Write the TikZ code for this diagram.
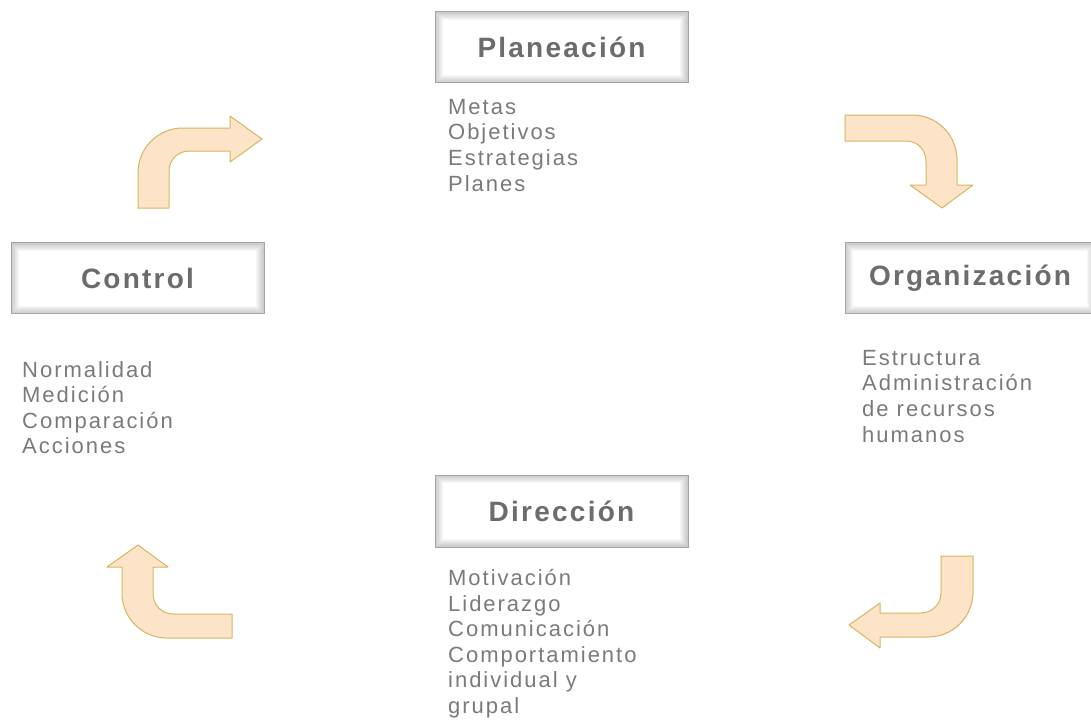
\documentclass[tikz,border=0pt]{standalone}
\usepackage{fontspec}
\setmainfont{Liberation Sans}
\newfontfamily\boxfont[LetterSpace=8]{Liberation Sans}
\newfontfamily\listfont[LetterSpace=9]{Liberation Sans}

\definecolor{titlegray}{RGB}{108,108,108}
\definecolor{listgray}{RGB}{122,122,122}
\definecolor{boxline}{RGB}{165,165,165}
\definecolor{arrowfill}{RGB}{253,228,200}
\definecolor{arrowline}{RGB}{212,182,96}

\begin{document}
\begin{tikzpicture}[x=1pt, y=-1pt,
		titlebox/.style={draw=boxline, fill=white, line width=1pt,
			minimum width=253pt, minimum height=71pt, inner sep=0pt,
			text=titlegray, font=\boxfont\bfseries\fontsize{28pt}{32pt}\selectfont,
			path picture={
				\foreach \i in {1,...,8}
					\draw[gray, opacity=0.06, line width=2*\i pt]
						(path picture bounding box.south west) rectangle
						(path picture bounding box.north east);
			}},
		itemlist/.style={anchor=north west, inner sep=0pt, align=left,
			text=listgray, font=\listfont\fontsize{22pt}{25.6pt}\selectfont},
		bentarrow/.style={fill=arrowfill, draw=arrowline, line width=1pt, line join=round}]

		\useasboundingbox (0,0) rectangle (1091,726);

		% boxes
		\node[titlebox] (plan) at (561.5,47) {Planeación};
		\node[titlebox] (ctrl) at (137.5,278) {Control};
		\node[titlebox, minimum width=250pt] (org) at (970,278) {Organización};
		\node[titlebox, minimum height=72pt] (dir) at (561.5,511) {Dirección};

		% lists
		\node[itemlist] (planlist) at (448,99) {Metas\\Objetivos\\Estrategias\\Planes};
		\node[itemlist] (ctrllist) at (22,361) {Normalidad\\Medición\\Comparación\\Acciones};
		\node[itemlist] (orglist) at (862,350) {Estructura\\Administración\\de recursos\\humanos};
		\node[itemlist] (dirlist) at (448,569) {Motivación\\Liderazgo\\Comunicación\\Comportamiento\\individual y\\grupal};

		% bent arrows
		\draw[bentarrow] (845,115) -- (912,115) .. controls (937,115) and (957,135) .. (957,160)
			-- (957,185) -- (973,185) -- (942,208) -- (910,185) -- (926,185) -- (926,162)
			.. controls (926,150) and (918,141) .. (906,141) -- (845,141) -- cycle;
		\draw[bentarrow] (941,556) -- (973,556) -- (973,592) .. controls (973,617) and (953,637) .. (928,637)
			-- (880,637) -- (880,648) -- (849,625) -- (880,603) -- (880,613) -- (921,613)
			.. controls (932,613) and (941,604) .. (941,593) -- cycle;
		\draw[bentarrow] (232,614) -- (232,638) -- (167,638) .. controls (142,638) and (122,618) .. (122,593)
			-- (122,567) -- (107,567) -- (138,545) -- (168,567) -- (153,567) -- (153,594)
			.. controls (153,605) and (162,614) .. (173,614) -- cycle;
		\draw[bentarrow] (138,208) -- (138,173) .. controls (138,148) and (158,128) .. (183,128)
			-- (230,128) -- (230,116) -- (262,139) -- (230,162) -- (230,151) -- (189,151)
			.. controls (178,151) and (169,160) .. (169,171) -- (169,208) -- cycle;

	\end{tikzpicture}
\end{document}
